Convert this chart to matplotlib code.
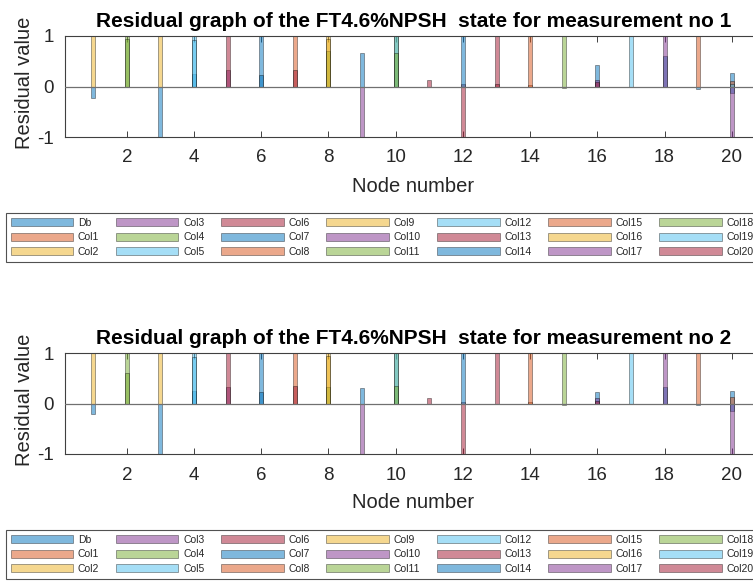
import numpy as np
import matplotlib
matplotlib.use("Agg")
import matplotlib.pyplot as plt

plt.rcParams["font.family"] = ["Liberation Sans", "DejaVu Sans"]
plt.rcParams["axes.unicode_minus"] = False

nodes = np.arange(1, 21)
series_names = ["Db"] + [f"Col{i}" for i in range(1, 21)]
xtick_values = [2, 4, 6, 8, 10, 12, 14, 16, 18, 20]
ytick_values = [-1, 0, 1]

# Residuals, measurement no 1 (one list per series, nodes 1..20)
db_1    = [-0.22, 0, 0, 0.25, 0, 0, 0, 0, 0.67, 0, 0, 0, 0, 0, 0, 0, 0, 0, -0.05, -0.12]
col1_1  = [0, 0, 0, 0, 0, 0, 0, 0, 0, 0, 0, 0, 0, 0.02, 0, 0, 0, 0, 0, 0]
col2_1  = [2.5, 0, 0, 0, 0, 0, 0, 0, 0, 0, 0, 0, 0, 0, 0, 0, 0, 0, 0, 0]
col3_1  = [0, 0, 0, 0, 0.32, 0, 0, 0, 0, 0, 0, 0, 0, 0, 0, 0, 0, 0, 0, 0]
col4_1  = [0, 1.5, 0, 0, 0, 0, 0, 0, 0, 0, 0, 0, 0, 0, -0.02, 0, 0, 0, 0, 0]
col5_1  = [0, 0, 0, 1.6, 0, 0, 0, 0, 0, 0, 0, 0, 0, 0, 0, 0, 0, 0, 0, 0]
col6_1  = [0, 0, 0, 0, 1.7, 0, 0, 0, 0, 0, 0, 0.05, 0, 0, 0, 0, 0, 0, 0, 0]
col7_1  = [0, 0, -1.6, 0, 0, 1.9, 0, 0, 0, 0, 0, 0, 0, 0, 0, 0, 0, 0.6, 0, 0]
col8_1  = [0, 0, 0, 0, 0, 0, 1.6, 0, 0, 0, 0, 0, 0, 0, 0, 0, 0, 0, 0, 0]
col9_1  = [0, 0, 2.0, 0, 0, 0, 0, 1.4, 0, 0, 0, 0, 0, 0, 0, 0, 0, 0, 0, 0]
col10_1 = [0, 0, 0, 0, 0, 0, 0, 0, -1.4, 0, 0, 0, 0, 0, 0, 0, 0, 0, 0, 0]
col11_1 = [0, 0.95, 0, 0, 0, 0, 0, 0.7, 0, 1.5, 0, 0, 0, 0, 0, 0, 0, 0, 0, 0]
col12_1 = [0, 0, 0, 0.92, 0, 0, 0, 0, 0, 1.3, 0, 0, 0, 0, 0, 0, 0, 0, 0, 0]
col13_1 = [0, 0, 0, 0, 0, 0, 0.33, 0, 0, 0, 0.13, 0, 1.6, 0, 0, 0, 0, 0, 0, 0]
col14_1 = [0, 0, 0, 0, 0, 0.22, 0, 0, 0, 0, 0, 1.7, 0, 0, 0, 0.43, 0, 0, 0, 0.27]
col15_1 = [0, 0, 0, 0, 0, 0, 0, 0, 0, 0, 0, 0, 0, 1.5, 0, 0, 0, 0, 1.4, 0.1]
col16_1 = [0, 0, 0, 0, 0, 0, 0, 0.95, 0, 0, 0, 0, 0, 0, 0, 0, 0, 0, 0, 0]
col17_1 = [0, 0, 0, 0, 0, 0, 0, 0, 0, 0, 0, 0, 0, 0, 0, 0.12, 0, 1.5, 0, -1.4]
col18_1 = [0, 0, 0, 0, 0, 0, 0, 0, 0, 0.67, 0, 0, 0, 0, 1.3, 0, 0, 0, 0, 0]
col19_1 = [0, 0, 0, 0, 0, 0, 0, 0, 0, 0, 0, 0, 0, 0, 0, 0, 1.8, 0, 0, 0.05]
col20_1 = [0, 0, 0, 0, 0, 0, 0, 0, 0, 0, 0, -1.5, 0.05, 0, 0, 0.08, 0, 0, 0, 0]

# Residuals, measurement no 2
db_2    = [-0.2, 0, 0, 0.25, 0, 0, 0, 0, 0.3, 0, 0, 0, 0, 0, 0, 0, 0, 0, -0.03, -0.15]
col1_2  = [0, 0, 0, 0, 0, 0, 0, 0, 0, 0, 0, 0, 0, 0.02, 0, 0, 0, 0, 0, 0]
col2_2  = [2.4, 0, 0, 0, 0, 0, 0, 0, 0, 0, 0, 0, 0, 0, 0, 0, 0, 0, 0, 0]
col3_2  = [0, 0, 0, 0, 0.33, 0, 0, 0, 0, 0, 0, 0, 0, 0, 0, 0, 0, 0, 0, 0]
col4_2  = [0, 1.5, 0, 0, 0, 0, 0, 0, 0, 0, 0, 0, 0, 0, -0.02, 0, 0, 0, 0, 0]
col5_2  = [0, 0, 0, 1.6, 0, 0, 0, 0, 0, 0, 0, 0, 0, 0, 0, 0, 0, 0, 0, 0]
col6_2  = [0, 0, 0, 0, 1.7, 0, 0, 0, 0, 0, 0, 0.03, 0, 0, 0, 0, 0, 0, 0, 0]
col7_2  = [0, 0, -1.6, 0, 0, 1.9, 0, 0, 0, 0, 0, 0, 0, 0, 0, 0, 0, 0.33, 0, 0]
col8_2  = [0, 0, 0, 0, 0, 0, 1.6, 0, 0, 0, 0, 0, 0, 0, 0, 0, 0, 0, 0, 0]
col9_2  = [0, 0, 2.0, 0, 0, 0, 0, 1.4, 0, 0, 0, 0, 0, 0, 0, 0, 0, 0, 0, 0]
col10_2 = [0, 0, 0, 0, 0, 0, 0, 0, -1.4, 0, 0, 0, 0, 0, 0, 0, 0, 0, 0, 0]
col11_2 = [0, 0.6, 0, 0, 0, 0, 0, 0.33, 0, 1.5, 0, 0, 0, 0, 0, 0, 0, 0, 0, 0]
col12_2 = [0, 0, 0, 0.92, 0, 0, 0, 0, 0, 1.3, 0, 0, 0, 0, 0, 0, 0, 0, 0, 0]
col13_2 = [0, 0, 0, 0, 0, 0, 0.35, 0, 0, 0, 0.1, 0, 1.6, 0, 0, 0, 0, 0, 0, 0]
col14_2 = [0, 0, 0, 0, 0, 0.22, 0, 0, 0, 0, 0, 1.7, 0, 0, 0, 0.23, 0, 0, 0, 0.25]
col15_2 = [0, 0, 0, 0, 0, 0, 0, 0, 0, 0, 0, 0, 0, 1.5, 0, 0, 0, 0, 1.4, 0.12]
col16_2 = [0, 0, 0, 0, 0, 0, 0, 0.95, 0, 0, 0, 0, 0, 0, 0, 0, 0, 0, 0, 0]
col17_2 = [0, 0, 0, 0, 0, 0, 0, 0, 0, 0, 0, 0, 0, 0, 0, 0.1, 0, 1.5, 0, -1.4]
col18_2 = [0, 0, 0, 0, 0, 0, 0, 0, 0, 0.35, 0, 0, 0, 0, 1.3, 0, 0, 0, 0, 0]
col19_2 = [0, 0, 0, 0, 0, 0, 0, 0, 0, 0, 0, 0, 0, 0, 0, 0, 1.8, 0, 0, 0]
col20_2 = [0, 0, 0, 0, 0, 0, 0, 0, 0, 0, 0, -1.5, 0, 0, 0, 0.05, 0, 0, 0, 0]

measurement_1 = [db_1, col1_1, col2_1, col3_1, col4_1, col5_1, col6_1, col7_1,
                 col8_1, col9_1, col10_1, col11_1, col12_1, col13_1, col14_1,
                 col15_1, col16_1, col17_1, col18_1, col19_1, col20_1]
measurement_2 = [db_2, col1_2, col2_2, col3_2, col4_2, col5_2, col6_2, col7_2,
                 col8_2, col9_2, col10_2, col11_2, col12_2, col13_2, col14_2,
                 col15_2, col16_2, col17_2, col18_2, col19_2, col20_2]

# MATLAB default line colour order, drawn at half opacity
palette = [(0.000, 0.447, 0.741), (0.850, 0.325, 0.098), (0.929, 0.694, 0.125),
           (0.494, 0.184, 0.556), (0.466, 0.674, 0.188), (0.301, 0.745, 0.933),
           (0.635, 0.078, 0.184)]

W, H = 753, 581
fig = plt.figure(figsize=(W / 100, H / 100), dpi=100)

text_col = "#262626"
axis_col = "#404040"


def px_axes(left, top, right, bottom):
    return fig.add_axes([left / W, 1 - bottom / H, (right - left) / W, (bottom - top) / H])


def draw_panel(values, top, meas_no):
    ax = px_axes(65, top, 760, top + 101)
    handles = []
    for i, (name, vals) in enumerate(zip(series_names, values)):
        bars = ax.bar(nodes, vals, width=0.12, color=palette[i % 7], alpha=0.5,
                      edgecolor="black", linewidth=0.5, label=name, zorder=2)
        handles.append(bars)
    ax.axhline(0, color="#707070", linewidth=0.9, zorder=3)
    ax.set_xlim(0.16, 20.84)
    ax.set_ylim(-1, 1)
    ax.set_xticks(xtick_values)
    ax.set_yticks(ytick_values)
    ax.tick_params(direction="in", length=4, width=0.7, colors=axis_col,
                   labelcolor=text_col, labelsize=13.5, top=True, right=True)
    ax.tick_params(axis="y", pad=8)
    ax.tick_params(axis="x", pad=9)
    for s in ax.spines.values():
        s.set_color(axis_col)
        s.set_linewidth(0.8)
    fig.text(414 / W, 1 - (top - 9) / H,
             f"Residual graph of the FT4.6%NPSH  state for measurement no {meas_no}",
             ha="center", va="baseline", fontsize=15, fontweight="bold", color="black")
    fig.text(25 / W, 1 - (top + 47) / H, "Residual value", rotation=90,
             ha="center", va="center", fontsize=14.5, color=text_col)
    fig.text(413 / W, 1 - (top + 150) / H, "Node number",
             ha="center", va="center", fontsize=14.5, color=text_col)
    leg = ax.legend(handles=handles, ncol=7, loc="upper left",
                    bbox_to_anchor=(6 / W, 1 - (top + 177) / H),
                    bbox_transform=fig.transFigure, fontsize=7.5,
                    handlelength=6.0, handleheight=0.8, handletextpad=0.45,
                    columnspacing=1.6, labelspacing=0.45, borderpad=0.45,
                    borderaxespad=0, frameon=True, fancybox=False)
    leg.get_frame().set_edgecolor(text_col)
    leg.get_frame().set_linewidth(0.8)
    for t in leg.get_texts():
        t.set_color(text_col)
    return ax


draw_panel(measurement_1, 36, 1)
draw_panel(measurement_2, 353, 2)

fig.savefig("out.png", dpi=100)
